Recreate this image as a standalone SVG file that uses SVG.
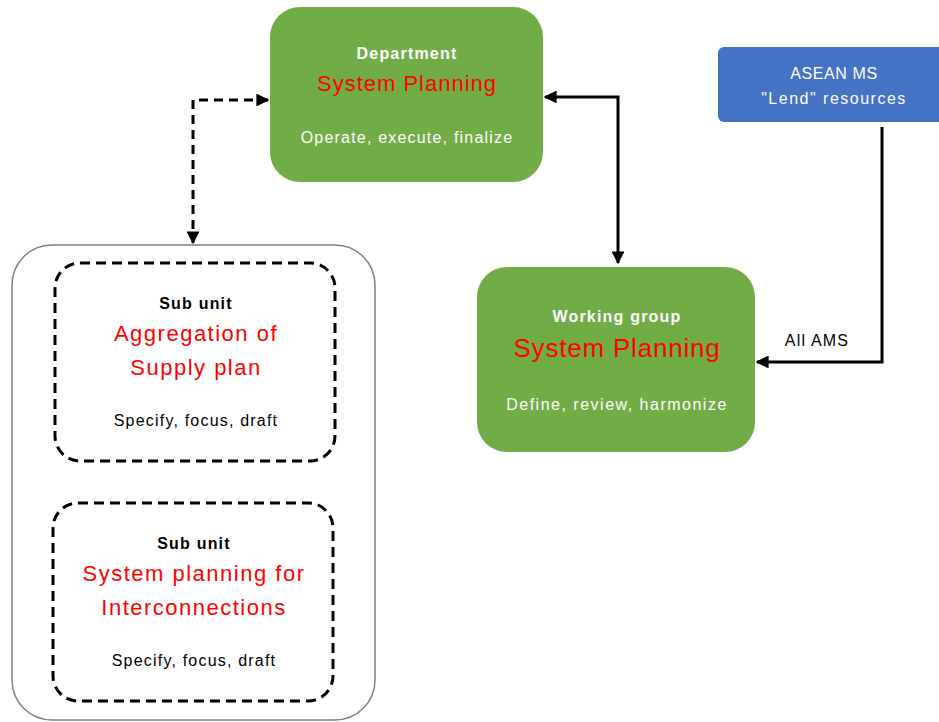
<svg xmlns="http://www.w3.org/2000/svg" width="939" height="722" viewBox="0 0 939 722">
<style>
text{font-family:"Liberation Sans",Arial,sans-serif;text-anchor:middle;dominant-baseline:central}
.green{fill:#70AD47}
.w{fill:#fff}
.r{fill:#FF0000}
.k{fill:#000}
.b{font-weight:bold;font-size:16px;letter-spacing:1.2px}
.s{font-size:16px;letter-spacing:1.2px}
.big{font-size:22px;letter-spacing:1.5px}
.conn{fill:none;stroke:#000;stroke-width:3}
.dash{stroke-dasharray:9 6}
.sub{fill:#fff;stroke:#000;stroke-width:3;stroke-dasharray:10 6}
</style>
<defs>
<marker id="ah" viewBox="0 0 10 10" refX="9" refY="5" markerWidth="4.3" markerHeight="4.3" orient="auto-start-reverse" markerUnits="strokeWidth">
<path d="M0,0 L10,5 L0,10 Z" fill="#000"/>
</marker>
</defs>
<rect width="939" height="722" fill="#fff"/>
<g id="container">
<rect x="12" y="245" width="363" height="475" rx="40" fill="#fff" stroke="#808080" stroke-width="1.5"/>
</g>
<g id="department">
<rect class="green" x="270" y="7" width="273" height="175" rx="30"/>
<text class="w b" x="407" y="53">Department</text>
<text class="r big" x="407" y="83" style="letter-spacing:1px">System Planning</text>
<text class="w s" x="407" y="137">Operate, execute, finalize</text>
</g>
<g id="subunit1">
<rect class="sub" x="55" y="263" width="280" height="198" rx="25"/>
<text class="k b" x="196" y="303">Sub unit</text>
<text class="r big" x="196" y="333">Aggregation of</text>
<text class="r big" x="196" y="367">Supply plan</text>
<text class="k s" x="196" y="420">Specify, focus, draft</text>
</g>
<g id="subunit2">
<rect class="sub" x="53" y="503" width="280" height="198" rx="25"/>
<text class="k b" x="194" y="543">Sub unit</text>
<text class="r big" x="194" y="573">System planning for</text>
<text class="r big" x="194" y="607">Interconnections</text>
<text class="k s" x="194" y="660">Specify, focus, draft</text>
</g>
<g id="workinggroup">
<rect class="green" x="477" y="267" width="278" height="185" rx="30"/>
<text class="w b" x="617" y="316">Working group</text>
<text class="r" x="617" y="348" font-size="26" letter-spacing="0.8">System Planning</text>
<text class="w s" x="617" y="404" style="letter-spacing:1.5px">Define, review, harmonize</text>
</g>
<g id="asean">
<rect x="718" y="47" width="230" height="75" rx="6" fill="#4472C4"/>
<text class="w" x="834" y="73" font-size="16" letter-spacing="0.6">ASEAN MS</text>
<text class="w" x="834" y="98" font-size="16" letter-spacing="1.5">"Lend" resources</text>
</g>
<g id="connectors">
<path class="conn dash" d="M268,100 L193,100 L193,243" marker-start="url(#ah)" marker-end="url(#ah)"/>
<path class="conn" d="M545,97 L618,97 L618,263" marker-start="url(#ah)" marker-end="url(#ah)"/>
<path class="conn" d="M882,127 L882,362 L757,362" marker-end="url(#ah)"/>
<text class="k s" x="817" y="340">All AMS</text>
</g>
</svg>
